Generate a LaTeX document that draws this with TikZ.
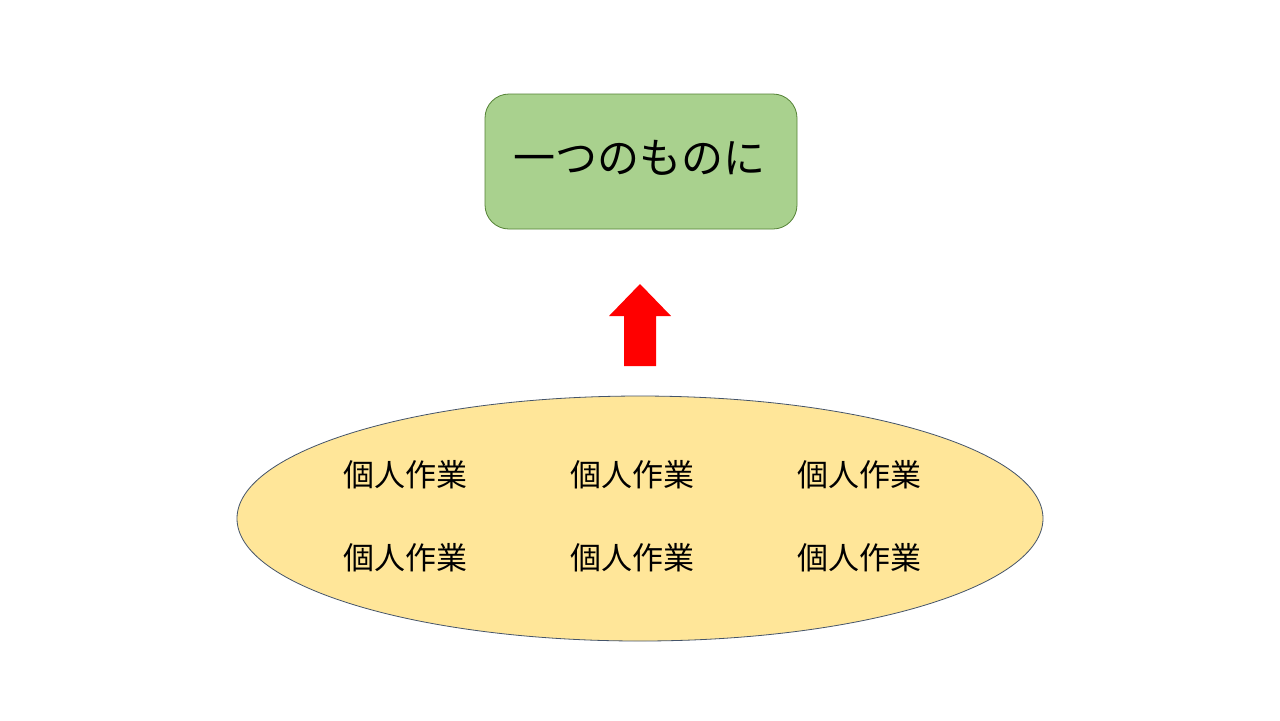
\documentclass[tikz,border=0pt]{standalone}
\usepackage{fontspec}
\usetikzlibrary{shapes.geometric}
\newfontfamily\jp{Noto Sans CJK JP}
\definecolor{boxgreen}{HTML}{A9D18E}
\definecolor{boxgreenline}{HTML}{548235}
\definecolor{ellfill}{HTML}{FFE699}
\definecolor{ellline}{HTML}{44546A}
\begin{document}
\begin{tikzpicture}[x=0.5pt,y=-0.5pt,
  greenbox/.style={draw=boxgreenline,fill=boxgreen,rounded corners=12pt,line width=0.4pt},
  worktxt/.style={font=\jp\fontsize{15.5}{18}\selectfont,inner sep=0pt}]
\useasboundingbox (0,0) rectangle (1280,720);
\fill[white] (0,0) rectangle (1280,720);
\draw[greenbox] (485,94) rectangle (797,229);
\node[font=\jp\fontsize{21}{24}\selectfont,inner sep=0pt] (goal) at (639,158) {一つのものに};
\node[draw=ellline,fill=ellfill,ellipse,line width=0.4pt,minimum width=403pt,minimum height=122.5pt,inner sep=0pt] (group) at (640,518.5) {};
\fill[red] (624,366) -- (624,316) -- (609,316) -- (640,284) -- (671,316) -- (656,316) -- (656,366) -- cycle;
\node[worktxt] (w1) at (405,475) {個人作業};
\node[worktxt] (w2) at (632,475) {個人作業};
\node[worktxt] (w3) at (859,475) {個人作業};
\node[worktxt] (w4) at (405,558) {個人作業};
\node[worktxt] (w5) at (632,558) {個人作業};
\node[worktxt] (w6) at (859,558) {個人作業};
\end{tikzpicture}
\end{document}
